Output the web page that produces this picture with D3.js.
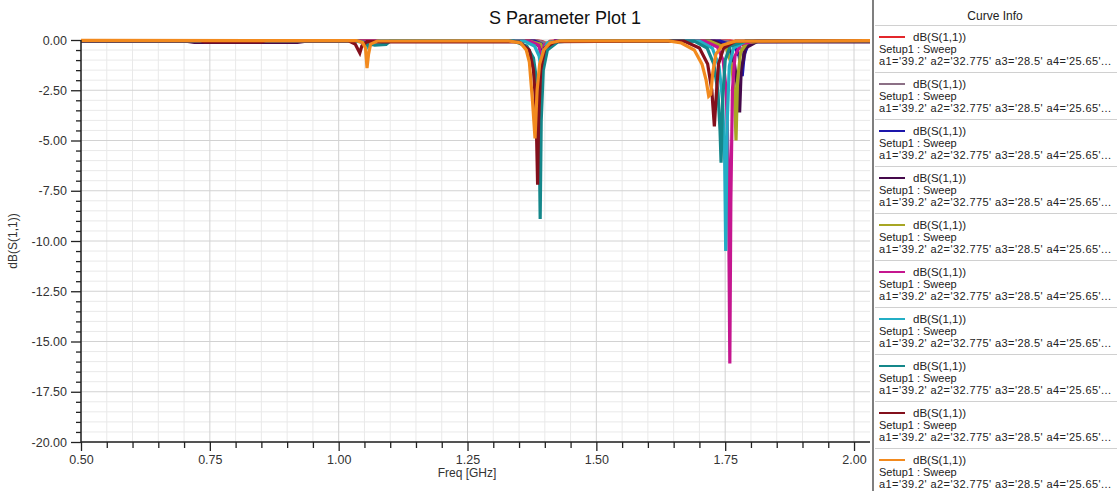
<!DOCTYPE html>
<html>
<head>
<meta charset="utf-8">
<script src="https://cdn.jsdelivr.net/npm/d3@7"></script>
<style>
body{margin:0;background:#fff;}
svg{font-family:"Liberation Sans",Arial,sans-serif;}
</style>
</head>
<body>
<div id="chart"></div>
<script>
// ---------------- data ----------------
var xTicks=[0.50,0.75,1.00,1.25,1.50,1.75,2.00];
var yTicks=[0,-2.5,-5,-7.5,-10,-12.5,-15,-17.5,-20];
var seriesColors=["#e3262b","#8c7086","#1c16ab","#45094b","#a7a624","#c5168f","#23aec5","#14878a","#83101c","#f28a1e"];
var seriesName="dB(S(1,1))";
var setupName="Setup1 : Sweep";
var varsLabel="a1='39.2' a2='32.775' a3='28.5' a4='25.65'...";

// [freq GHz, dB]
var curveRed=[[0.5,-0.03],[1.38,-0.03],[1.395,-0.08],[1.404,-0.2],[1.41,-0.07],[1.43,-0.03],[1.76,-0.04],[1.782,-0.12],[1.789,-0.4],[1.795,-0.15],[1.81,-0.05],[2.031,-0.04]];
var curveMauve=[[0.5,-0.04],[1.385,-0.04],[1.398,-0.12],[1.403,-0.3],[1.408,-0.1],[1.43,-0.04],[1.75,-0.05],[1.774,-0.2],[1.782,-0.5],[1.787,-0.85],[1.791,-0.3],[1.805,-0.08],[2.031,-0.05]];
var curveBlue=[[0.5,-0.04],[1.38,-0.05],[1.393,-0.2],[1.399,-0.6],[1.404,-0.2],[1.42,-0.05],[1.74,-0.06],[1.768,-0.3],[1.777,-0.8],[1.783,-1.8],[1.787,-0.7],[1.795,-0.2],[1.815,-0.06],[2.031,-0.06]];
var curvePurple=[[0.5,-0.05],[0.7,-0.05],[0.72,-0.12],[0.92,-0.12],[0.94,-0.05],[1.37,-0.06],[1.39,-0.3],[1.396,-1.0],[1.401,-0.3],[1.42,-0.06],[1.73,-0.07],[1.758,-0.4],[1.768,-1.2],[1.774,-2.4],[1.778,-3.6],[1.781,-1.5],[1.789,-0.4],[1.81,-0.1],[2.031,-0.1]];
var curveOlive=[[0.5,-0.04],[1.37,-0.05],[1.392,-0.2],[1.399,-0.5],[1.404,-0.15],[1.43,-0.04],[1.72,-0.06],[1.752,-0.4],[1.762,-1.2],[1.768,-2.5],[1.771,-5.0],[1.774,-2.0],[1.78,-0.6],[1.792,-0.15],[1.82,-0.05],[2.031,-0.04]];
var curveMagenta=[[0.5,-0.04],[1.37,-0.05],[1.388,-0.25],[1.394,-0.9],[1.399,-0.25],[1.42,-0.05],[1.71,-0.06],[1.735,-0.35],[1.746,-1.0],[1.752,-2.5],[1.756,-6.0],[1.759,-16.1],[1.761,-8.0],[1.764,-2.5],[1.769,-0.8],[1.78,-0.2],[1.81,-0.05],[2.031,-0.04]];
var curveCyan=[[0.5,-0.04],[1.03,-0.04],[1.048,-0.12],[1.055,-0.35],[1.06,-0.12],[1.08,-0.04],[1.36,-0.05],[1.38,-0.3],[1.389,-0.8],[1.393,-1.5],[1.396,-0.6],[1.405,-0.15],[1.43,-0.04],[1.70,-0.06],[1.725,-0.4],[1.738,-1.3],[1.745,-3.0],[1.749,-6.0],[1.751,-10.5],[1.754,-4.0],[1.758,-1.3],[1.766,-0.4],[1.79,-0.06],[2.031,-0.04]];
var curveTeal=[[0.5,-0.04],[1.035,-0.04],[1.05,-0.12],[1.058,-0.3],[1.064,-0.22],[1.07,-0.25],[1.092,-0.22],[1.1,-0.05],[1.34,-0.06],[1.365,-0.3],[1.378,-0.9],[1.385,-2.2],[1.389,-4.5],[1.391,-8.9],[1.393,-4.0],[1.397,-1.5],[1.405,-0.5],[1.425,-0.1],[1.45,-0.04],[1.69,-0.06],[1.715,-0.4],[1.728,-1.2],[1.736,-2.6],[1.740,-4.5],[1.742,-6.1],[1.745,-3.0],[1.75,-1.0],[1.76,-0.3],[1.79,-0.06],[2.031,-0.04]];
var curveDarkRed=[[0.5,-0.04],[0.73,-0.04],[0.74,-0.1],[0.85,-0.1],[0.86,-0.04],[1.02,-0.05],[1.032,-0.2],[1.038,-0.5],[1.041,-0.65],[1.045,-0.3],[1.055,-0.08],[1.35,-0.1],[1.37,-0.5],[1.378,-1.5],[1.383,-3.5],[1.386,-7.2],[1.388,-4.0],[1.392,-1.5],[1.40,-0.4],[1.42,-0.08],[1.67,-0.05],[1.70,-0.4],[1.716,-1.2],[1.724,-2.5],[1.729,-4.3],[1.732,-3.0],[1.737,-1.2],[1.747,-0.4],[1.77,-0.06],[2.031,-0.04]];
var curveOrange=[[0.5,-0.02],[1.035,-0.03],[1.046,-0.12],[1.052,-0.4],[1.055,-1.4],[1.058,-0.7],[1.062,-0.2],[1.075,-0.05],[1.33,-0.04],[1.353,-0.15],[1.364,-0.5],[1.37,-1.1],[1.376,-3.0],[1.381,-4.9],[1.385,-2.5],[1.39,-1.2],[1.398,-0.5],[1.41,-0.15],[1.43,-0.04],[1.64,-0.04],[1.665,-0.15],[1.69,-0.5],[1.705,-1.2],[1.713,-2.0],[1.718,-2.8],[1.722,-2.7],[1.726,-1.6],[1.732,-0.7],[1.745,-0.25],[1.77,-0.06],[2.031,-0.03]];
var curvePoints=[curveRed,curveMauve,curveBlue,curvePurple,curveOlive,curveMagenta,curveCyan,curveTeal,curveDarkRed,curveOrange];

// ---------------- layout ----------------
var W=1117,H=491;
var plot={left:81,right:870,top:40,bottom:442};
var legendX=873;

var svg=d3.select("#chart").append("svg").attr("width",W).attr("height",H);

var x=d3.scaleLinear().domain([0.5,2.031]).range([plot.left,plot.right]);
var y=d3.scaleLinear().domain([-20,0]).range([plot.bottom,plot.top]);
var fmt=function(v){return d3.format(".2f")(v).replace("\u2212","-");};

var xMinor=d3.range(0.55,2.031,0.05).filter(function(v){return Math.abs(v*4-Math.round(v*4))>1e-6;});
var yMinor=d3.range(-19.5,0,0.5).filter(function(v){return Math.abs(v/2.5-Math.round(v/2.5))>1e-6;});

// grid
var grid=svg.append("g").attr("class","grid");
grid.selectAll("line.vm").data(xMinor).enter().append("line")
	.attr("x1",function(d){return x(d);}).attr("x2",function(d){return x(d);})
	.attr("y1",plot.top).attr("y2",plot.bottom).attr("stroke","#e9e9e9");
grid.selectAll("line.hm").data(yMinor).enter().append("line")
	.attr("y1",function(d){return y(d);}).attr("y2",function(d){return y(d);})
	.attr("x1",plot.left).attr("x2",plot.right).attr("stroke","#e9e9e9");
grid.selectAll("line.vM").data(xTicks).enter().append("line")
	.attr("x1",function(d){return x(d);}).attr("x2",function(d){return x(d);})
	.attr("y1",plot.top).attr("y2",plot.bottom).attr("stroke","#d2d2d2");
grid.selectAll("line.hM").data(yTicks).enter().append("line")
	.attr("y1",function(d){return y(d);}).attr("y2",function(d){return y(d);})
	.attr("x1",plot.left).attr("x2",plot.right).attr("stroke","#d2d2d2");

// curves
var line=d3.line().x(function(d){return x(d[0]);}).y(function(d){return y(d[1]);});
svg.append("g").attr("class","curves").selectAll("path").data(curvePoints).enter().append("path")
	.attr("d",line).attr("fill","none")
	.attr("stroke",function(d,i){return seriesColors[i];})
	.attr("stroke-width",3.2);

// axes
var xAxis=svg.append("g").attr("transform","translate(0,"+plot.bottom+")")
	.call(d3.axisBottom(x).tickValues(xTicks).tickFormat(fmt).tickSize(9).tickPadding(4));
svg.append("g").attr("transform","translate(0,"+plot.bottom+")")
	.call(d3.axisBottom(x).tickValues(xMinor).tickFormat("").tickSize(6))
	.select(".domain").remove();
var yAxis=svg.append("g").attr("transform","translate("+plot.left+",0)")
	.call(d3.axisLeft(y).tickValues(yTicks).tickFormat(fmt).tickSize(10).tickPadding(4));
svg.append("g").attr("transform","translate("+plot.left+",0)")
	.call(d3.axisLeft(y).tickValues(yMinor).tickFormat("").tickSize(5))
	.select(".domain").remove();
svg.selectAll(".domain").attr("stroke","#222").attr("stroke-width",1.5);
svg.selectAll(".tick line").attr("stroke","#222").attr("stroke-width",1.3);
svg.selectAll(".tick text").attr("fill","#333").style("font-size","12.5px").style("font-family","'Liberation Sans',Arial,sans-serif");
xAxis.select(".domain").attr("d","M"+plot.left+",0H"+plot.right);
yAxis.select(".domain").attr("d","M0,"+plot.bottom+"V"+plot.top);

// titles
svg.append("text").attr("x",565).attr("y",24).attr("text-anchor","middle")
	.style("font-size","18px").attr("fill","#111").text("S Parameter Plot 1");
svg.append("text").attr("x",467).attr("y",477).attr("text-anchor","middle")
	.style("font-size","12px").attr("fill","#333").text("Freq [GHz]");
svg.append("text").attr("transform","translate(17,241) rotate(-90)").attr("text-anchor","middle")
	.style("font-size","12px").attr("fill","#333").text("dB(S(1,1))");

// legend
var leg=svg.append("g").attr("class","legend");
leg.append("rect").attr("x",legendX).attr("y",0).attr("width",W-legendX).attr("height",H).attr("fill","#fff");
leg.append("line").attr("x1",legendX).attr("x2",legendX).attr("y1",0).attr("y2",H).attr("stroke","#555").attr("stroke-width",1.5);
leg.append("text").attr("x",995).attr("y",20).attr("text-anchor","middle").style("font-size","12px").attr("fill","#222").text("Curve Info");
leg.append("line").attr("x1",legendX+2).attr("x2",W).attr("y1",25.5).attr("y2",25.5).attr("stroke","#d0d0d0");

var entryH=47;
var entries=leg.selectAll("g.entry").data(seriesColors).enter().append("g")
	.attr("transform",function(d,i){return "translate(0,"+(26+entryH*i)+")";});
entries.append("line").attr("x1",879).attr("x2",905).attr("y1",11).attr("y2",11)
	.attr("stroke",function(d){return d;}).attr("stroke-width",2);
entries.append("text").attr("x",913).attr("y",15).style("font-size","11.5px").attr("fill","#222").text(seriesName);
entries.append("text").attr("x",879).attr("y",27).style("font-size","11px").attr("fill","#222").text(setupName);
entries.append("text").attr("x",879).attr("y",39).style("font-size","11px").attr("fill","#222")
	.attr("textLength",232).attr("lengthAdjust","spacing").text(varsLabel);
entries.append("line").attr("x1",legendX+2).attr("x2",W).attr("y1",46.5).attr("y2",46.5).attr("stroke","#d0d0d0");
</script>
</body>
</html>
